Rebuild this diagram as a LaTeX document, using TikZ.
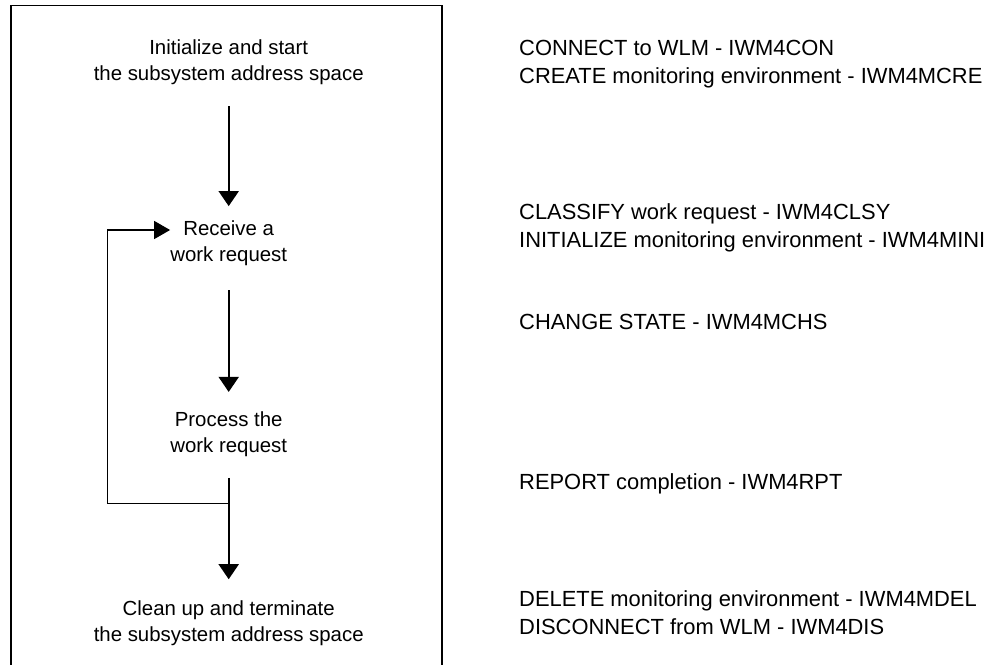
\documentclass[tikz,border=0pt]{standalone}
\usepackage{fontspec}
\setmainfont{Liberation Sans}
\usetikzlibrary{arrows.meta,calc}
\tikzset{
  stepbox/.style={font=\fontsize{20.4}{26}\selectfont, align=center, inner sep=0pt, anchor=base},
  apitext/.style={font=\fontsize{21.9}{27.5}\selectfont, align=left, inner sep=0pt, anchor=base west},
  flow/.style={line width=1.8pt, -{Triangle[length=15pt,width=20pt]}},
  backloop/.style={line width=1.4pt, -{Triangle[length=16pt,width=18pt]}},
  frameline/.style={line width=1.8pt},
}
\begin{document}
\begin{tikzpicture}[x=1pt,y=-1pt]
\useasboundingbox (0,0) rectangle (998,664);

% enclosing frame, open at the bottom edge
\draw[frameline] (10.8,667) -- (10.8,5.5) -- (441.7,5.5) -- (441.7,667);

% processing steps (base = baseline of the last line)
\node[stepbox] (init)  at (228.7,80.3)  {Initialize and start\\the subsystem address space};
\node[stepbox] (recv)  at (228.7,261.5) {Receive a\\work request};
\node[stepbox] (proc)  at (228.7,452.3) {Process the\\work request};
\node[stepbox] (clean) at (228.7,641)   {Clean up and terminate\\the subsystem address space};

% services called at each step
\node[apitext] (svc1) at (519,83)    {CONNECT to WLM - IWM4CON\\CREATE monitoring environment - IWM4MCRE};
\node[apitext] (svc2) at (519,247.3) {CLASSIFY work request - IWM4CLSY\\INITIALIZE monitoring environment - IWM4MINI};
\node[apitext] (svc3) at (519,329.3) {CHANGE STATE - IWM4MCHS};
\node[apitext] (svc4) at (519,489.3) {REPORT completion - IWM4RPT};
\node[apitext] (svc5) at (519,634)   {DELETE monitoring environment - IWM4MDEL\\DISCONNECT from WLM - IWM4DIS};

% main flow
\draw[flow, shorten <=21.4pt, shorten >=14.4pt] (init.south) -- (recv.north);
\draw[flow, shorten <=24.2pt, shorten >=19.4pt] (recv.south) -- (proc.north);
\draw[flow, shorten <=21.1pt, shorten >=20.8pt] (proc.south) -- (clean.north);

% loop back for the next work request
\coordinate (j)   at ($(proc.south)!0.325!(clean.north)$);
\coordinate (rin) at ($(recv.west |- recv.base)+(0,-31.5)$);
\draw[backloop] (j) -- ++(-121.4,0) |- (rin);
\end{tikzpicture}
\end{document}
